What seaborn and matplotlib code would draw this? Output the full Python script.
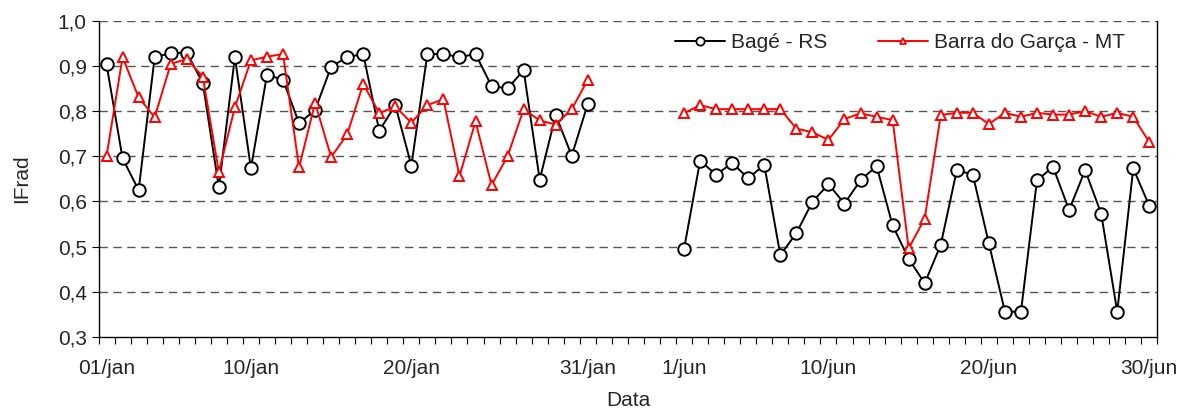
import numpy as np
import pandas as pd
import matplotlib
matplotlib.use("Agg")
import matplotlib.pyplot as plt
import seaborn as sns
from matplotlib.lines import Line2D
from matplotlib.ticker import FuncFormatter, FixedLocator

# ---------- data ----------
jan_dias = list(range(1, 32))
jun_dias = list(range(1, 31))

bage_jan = [0.903, 0.695, 0.625, 0.919, 0.928, 0.929, 0.862, 0.631, 0.919, 0.673,
            0.880, 0.869, 0.773, 0.802, 0.898, 0.919, 0.926, 0.756, 0.813, 0.679,
            0.926, 0.926, 0.919, 0.926, 0.855, 0.850, 0.890, 0.648, 0.791, 0.701,
            0.816]
barra_jan = [0.700, 0.919, 0.830, 0.786, 0.904, 0.915, 0.876, 0.665, 0.808, 0.912,
             0.920, 0.926, 0.675, 0.818, 0.698, 0.748, 0.860, 0.795, 0.810, 0.774,
             0.813, 0.826, 0.656, 0.777, 0.636, 0.700, 0.804, 0.779, 0.770, 0.804,
             0.869]
bage_jun = [0.495, 0.690, 0.659, 0.685, 0.651, 0.681, 0.481, 0.530, 0.599, 0.638,
            0.595, 0.647, 0.678, 0.547, 0.473, 0.419, 0.504, 0.669, 0.659, 0.507,
            0.356, 0.356, 0.647, 0.676, 0.581, 0.669, 0.573, 0.356, 0.673, 0.590]
barra_jun = [0.795, 0.813, 0.804, 0.804, 0.804, 0.804, 0.804, 0.761, 0.753, 0.736,
             0.782, 0.795, 0.787, 0.780, 0.496, 0.562, 0.791, 0.796, 0.796, 0.771,
             0.796, 0.787, 0.796, 0.792, 0.792, 0.800, 0.787, 0.796, 0.787, 0.731]

series_names = ["Bagé - RS", "Barra do Garça - MT"]
tick_days = {"jan": [1, 10, 20, 31], "jun": [1, 10, 20, 30]}
tick_lab = ["01/jan", "10/jan", "20/jan", "31/jan", "1/jun", "10/jun", "20/jun", "30/jun"]

# categorical positions: january, 5 empty slots, june
gap = 5
jan_pos = [d - 1 for d in jan_dias]
jun_pos = [len(jan_dias) + gap + d - 1 for d in jun_dias]

rows = []
for serie, vj, vn in [(series_names[0], bage_jan, bage_jun),
                      (series_names[1], barra_jan, barra_jun)]:
    rows += [{"serie": serie, "periodo": "jan", "pos": p, "valor": v} for p, v in zip(jan_pos, vj)]
    rows += [{"serie": serie, "periodo": "jun", "pos": p, "valor": v} for p, v in zip(jun_pos, vn)]
df = pd.DataFrame(rows)

# ---------- plot ----------
sns.set_style("white")
plt.rcParams["font.family"] = ["Liberation Sans", "DejaVu Sans"]
FS = 15

fig, ax = plt.subplots(figsize=(11.87, 4.11), dpi=100)
fig.subplots_adjust(left=0.083, right=0.975, top=0.95, bottom=0.18)

styles = {
    series_names[0]: dict(color="black", marker="o", markersize=9, legsize=6),
    series_names[1]: dict(color="#ff0000", marker="^", markersize=7, legsize=5),
}

for serie in series_names:
    st = styles[serie]
    for periodo in ["jan", "jun"]:
        sub = df[(df.serie == serie) & (df.periodo == periodo)]
        sns.lineplot(
            data=sub, x="pos", y="valor", ax=ax,
            color=st["color"], marker=st["marker"], markersize=st["markersize"],
            markerfacecolor="white", markeredgecolor=st["color"], markeredgewidth=1.4,
            linewidth=1.4, legend=False,
        )

# grid lines
for v in np.arange(0.4, 1.01, 0.1):
    ax.axhline(v, color="#555555", lw=1.0, ls=(0, (6, 4)), zorder=0)

ax.set_ylim(0.3, 1.0)
ax.set_xlim(-0.5, jun_pos[-1] + 0.5)
ax.set_yticks(np.arange(0.3, 1.01, 0.1))
ax.yaxis.set_major_formatter(FuncFormatter(lambda v, _: f"{v:.1f}".replace(".", ",")))

tick_pos = [jan_pos[d - 1] for d in tick_days["jan"]] + [jun_pos[d - 1] for d in tick_days["jun"]]
ax.set_xticks(tick_pos)
ax.set_xticklabels(tick_lab)
ax.xaxis.set_minor_locator(FixedLocator(np.arange(-0.5, jun_pos[-1] + 1, 1)))
ax.tick_params(axis="x", which="major", bottom=True, length=0, pad=16, labelsize=FS)
ax.tick_params(axis="x", which="minor", bottom=True, length=5, width=0.8,
               color="black", direction="out")
ax.tick_params(axis="y", which="major", left=True, length=5, width=0.8,
               color="black", direction="out", labelsize=FS)

for side in ["left", "bottom", "right"]:
    ax.spines[side].set_color("black")
    ax.spines[side].set_linewidth(1.0)
ax.spines["top"].set_visible(False)

ax.set_xlabel("Data", fontsize=FS, labelpad=9)
ax.set_ylabel("IFrad", fontsize=FS, labelpad=19)

handles = [Line2D([], [], color=styles[s]["color"], marker=styles[s]["marker"],
                  markersize=styles[s]["legsize"], markerfacecolor="white",
                  markeredgecolor=styles[s]["color"], markeredgewidth=1.3, lw=1.4)
           for s in series_names]
ax.legend(handles=handles, labels=series_names, loc="upper right", ncol=2,
          frameon=False, fontsize=FS, bbox_to_anchor=(0.987, 1.02),
          handlelength=2.4, handletextpad=0.3, columnspacing=2.4)

fig.savefig("out.png", dpi=100)
